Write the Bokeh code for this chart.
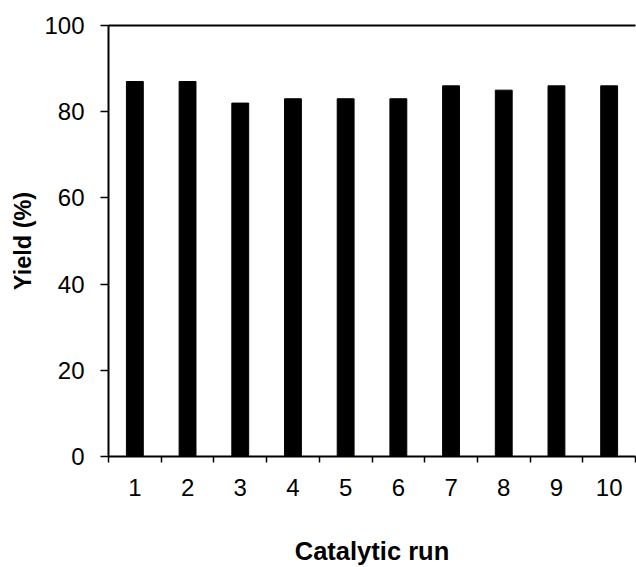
from bokeh.plotting import figure
from bokeh.models import Range1d, FixedTicker, LinearAxis
from bokeh.embed import file_html
from bokeh.resources import INLINE

runs = [1, 2, 3, 4, 5, 6, 7, 8, 9, 10]
yields = [87, 87, 82, 83, 83, 83, 86, 85, 86, 86]
y_ticks = [0, 20, 40, 60, 80, 100]
boundaries = [0.5, 1.5, 2.5, 3.5, 4.5, 5.5, 6.5, 7.5, 8.5, 9.5, 10.5]
x_title = "Catalytic run"
y_title = "Yield (%)"

FONT = "Liberation Sans"

p = figure(width=636, height=567, output_backend="svg", toolbar_location=None,
           x_range=Range1d(0.5, 10.5), y_range=Range1d(0, 100),
           min_border_left=108, min_border_right=1, min_border_top=25, min_border_bottom=110)
p.outline_line_color = None
p.xgrid.visible = False
p.ygrid.visible = False
p.background_fill_color = "white"
p.border_fill_color = "white"

p.vbar(x=runs, top=yields, width=0.32, bottom=0, fill_color="black", line_color="black")

xa = p.xaxis[0]
xa.ticker = FixedTicker(ticks=runs, minor_ticks=boundaries)
xa.major_tick_line_color = None
xa.major_tick_out = 0
xa.major_tick_in = 0
xa.minor_tick_out = 6
xa.minor_tick_in = 0
xa.minor_tick_line_color = "black"
xa.minor_tick_line_width = 1.5
xa.axis_line_width = 2
xa.axis_line_color = "black"
xa.major_label_text_font = FONT
xa.major_label_text_font_size = "24px"
xa.major_label_text_color = "black"
xa.major_label_standoff = 16
xa.axis_label = x_title
xa.axis_label_text_font = FONT
xa.axis_label_text_font_size = "25.5px"
xa.axis_label_text_font_style = "bold"
xa.axis_label_text_color = "black"
xa.axis_label_standoff = 38

ya = p.yaxis[0]
ya.ticker = FixedTicker(ticks=y_ticks)
ya.minor_tick_line_color = None
ya.major_tick_out = 8
ya.major_tick_in = 0
ya.major_tick_line_width = 1.5
ya.major_tick_line_color = "black"
ya.axis_line_width = 2
ya.axis_line_color = "black"
ya.major_label_text_font = FONT
ya.major_label_text_font_size = "24px"
ya.major_label_text_color = "black"
ya.major_label_standoff = 16
ya.axis_label = y_title
ya.axis_label_text_font = FONT
ya.axis_label_text_font_size = "23.5px"
ya.axis_label_text_font_style = "bold"
ya.axis_label_text_color = "black"
ya.axis_label_standoff = 5

top = LinearAxis(ticker=FixedTicker(ticks=[]), major_label_text_font_size="0px",
                 major_tick_line_color=None, minor_tick_line_color=None,
                 axis_line_width=2, axis_line_color="black")
p.add_layout(top, "above")

open("out.html", "w").write(file_html(p, INLINE))
